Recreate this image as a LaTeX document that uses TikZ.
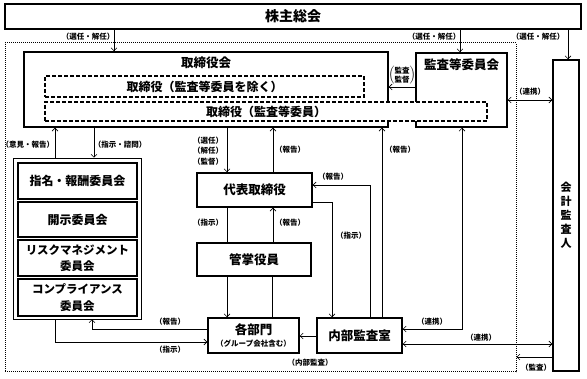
\documentclass[tikz,border=0pt]{standalone}
\usepackage{fontspec}
\setmainfont{Noto Sans CJK JP}
\usetikzlibrary{arrows.meta}
\begin{document}
\begin{tikzpicture}[x=1pt,y=-1pt,
  box/.style={draw,line width=1.5pt,fill=white,inner sep=0pt,align=center,font=\fontsize{12.5}{16.5}\selectfont\bfseries},
  thinbox/.style={draw,line width=0.6pt,inner sep=0pt},
  dbox/.style={draw,line width=1.5pt,dash pattern=on 4pt off 2pt,fill=white,inner sep=0pt},
  ttl/.style={inner sep=0pt,font=\fontsize{12.5}{15}\selectfont\bfseries},
  lbl/.style={inner sep=0pt,align=center,font=\fontsize{7.5}{10.5}\selectfont\bfseries},
  conn/.style={line width=0.6pt},
  arr/.style={conn,-{Straight Barb[length=3pt,width=6pt]}},
  darr/.style={conn,{Straight Barb[length=3pt,width=6pt]}-{Straight Barb[length=3pt,width=6pt]}},
]
\useasboundingbox (0,0) rectangle (587,379);
% company boundary
\node[draw,line width=1pt,dash pattern=on 1pt off 1pt,inner sep=0pt,minimum width=511pt,minimum height=329pt] (company) at (260.5,207.5) {};
% shareholders
\node[box,minimum width=576pt,minimum height=25pt,font=\fontsize{14}{16}\selectfont\bfseries] (kabu) at (293,16.5) {株主総会};
% board and audit committee
\node[box,minimum width=364pt,minimum height=75pt] (board) at (206,89.5) {};
\node[ttl] (boardt) at (206,63) {取締役会};
\node[box,minimum width=91pt,minimum height=74pt] (audcom) at (461.5,90) {};
\node[ttl] (audcomt) at (461.5,65) {監査等委員会};
\node[dbox,minimum width=319pt,minimum height=21pt] (dash1) at (204.5,86.5) {};
\node[ttl,font=\fontsize{12}{14}\selectfont\bfseries] (dash1t) at (204.5,86.5) {取締役（監査等委員を除く）};
\node[dbox,minimum width=442pt,minimum height=19pt] (dash2) at (266,111.5) {};
\node[ttl,font=\fontsize{12}{14}\selectfont\bfseries] (dash2t) at (266,111.5) {取締役（監査等委員）};
% accounting auditor
\node[box,minimum width=26pt,minimum height=311pt,font=\fontsize{11}{14}\selectfont\bfseries] (kaikei) at (566,215.5) {会\\計\\監\\査\\人};
% committees
\node[thinbox,minimum width=128pt,minimum height=161pt] (group) at (77,238.5) {};
\node[box,minimum width=119pt,minimum height=36pt,font=\fontsize{12}{16.5}\selectfont\bfseries] (c1) at (77.5,181) {指名・報酬委員会};
\node[box,minimum width=119pt,minimum height=35pt,font=\fontsize{12}{16.5}\selectfont\bfseries] (c2) at (77.5,219.5) {開示委員会};
\node[box,minimum width=119pt,minimum height=36pt,font=\fontsize{11.5}{16.5}\selectfont\bfseries] (c3) at (77.5,258) {リスクマネジメント\\委員会};
\node[box,minimum width=119pt,minimum height=37pt,font=\fontsize{11.5}{16.5}\selectfont\bfseries] (c4) at (77.5,297.5) {コンプライアンス\\委員会};
% executives
\node[box,minimum width=115pt,minimum height=34pt] (daihyo) at (254.5,190) {代表取締役};
\node[box,minimum width=114pt,minimum height=33pt] (kansho) at (254,259.5) {管掌役員};
\node[box,minimum width=91pt,minimum height=35pt] (kaku) at (253.5,335.5) {};
\node[ttl] (kakut) at (253.5,330) {各部門};
\node[lbl] (kakus) at (253.5,344) {（グループ会社含む）};
\node[box,minimum width=85pt,minimum height=35pt] (naibu) at (359.5,335.5) {内部監査室};
% connectors
\draw[arr] (114,0 |- kabu.south) -- (114,0 |- board.north);
\node[lbl] (l1) at (88,37) {（選任・解任）};
\draw[arr] (460,0 |- kabu.south) -- (460,0 |- audcom.north);
\node[lbl] (l2) at (434,37) {（選任・解任）};
\draw[arr] (568,0 |- kabu.south) -- (568,0 |- kaikei.north);
\node[lbl] (l3) at (538,37) {（選任・解任）};
\draw[arr] (0,87 -| audcom.west) -- (0,87 -| board.east);
\node[lbl] (l4) at (402,75) {$\left(\vcenter{\hbox{\shortstack{監査\\[-1pt]監督}}}\right)$};
\draw[darr] (0,100 -| audcom.east) -- (0,100 -| kaikei.west);
\node[lbl] (l5) at (530,92) {（連携）};
\draw[arr] (55,0 |- group.north) -- (55,0 |- board.south);
\node[lbl] (l6) at (28,145) {（意見・報告）};
\draw[arr] (94,0 |- board.south) -- (94,0 |- group.north);
\node[lbl] (l7) at (120,145) {（指示・諮問）};
\draw[arr] (227,0 |- board.south) -- (227,0 |- daihyo.north);
\node[lbl] (l8) at (208,151) {（選任）\\（解任）\\（監督）};
\draw[arr] (273,0 |- daihyo.north) -- (273,0 |- board.south);
\node[lbl] (l9) at (290,150) {（報告）};
\draw[conn] (227,0 |- daihyo.south) -- (227,0 |- kansho.north);
\node[lbl] (l10) at (208,223) {（指示）};
\draw[arr] (273,0 |- kansho.north) -- (273,0 |- daihyo.south);
\node[lbl] (l11) at (290,223) {（報告）};
\draw[arr] (227,0 |- kansho.south) -- (227,0 |- kaku.north);
\draw[conn] (272,0 |- kaku.north) -- (272,0 |- kansho.south);
\draw[arr] (0,329 -| kaku.west) -| (92,0 |- group.south);
\node[lbl] (l12) at (170,322) {（報告）};
\draw[arr] (55,0 |- group.south) |- (0,342 -| kaku.west);
\node[lbl] (l13) at (170,350) {（指示）};
\draw[arr] (0,336 -| naibu.west) -- (0,336 -| kaku.east);
\node[lbl] (l14) at (310,363) {（内部監査）};
\draw[arr] (0,202 -| daihyo.east) -| (332,0 |- naibu.north);
\node[lbl] (l15) at (351,236) {（指示）};
\draw[arr] (370,0 |- naibu.north) |- (0,185 -| daihyo.east);
\node[lbl] (l16) at (333,177) {（報告）};
\draw[arr] (382,0 |- naibu.north) -- (382,0 |- board.south);
\node[lbl] (l17) at (400,150) {（報告）};
\draw[darr] (462,0 |- audcom.south) |- (0,329 -| naibu.east);
\node[lbl] (l18) at (432,322) {（連携）};
\draw[darr] (0,344 -| naibu.east) -- (0,344 -| kaikei.west);
\node[lbl] (l19) at (481,338) {（連携）};
\draw[arr] (0,357 -| kaikei.west) -- (0,357 -| company.east);
\node[lbl] (l20) at (536,368) {（監査）};
\end{tikzpicture}
\end{document}
